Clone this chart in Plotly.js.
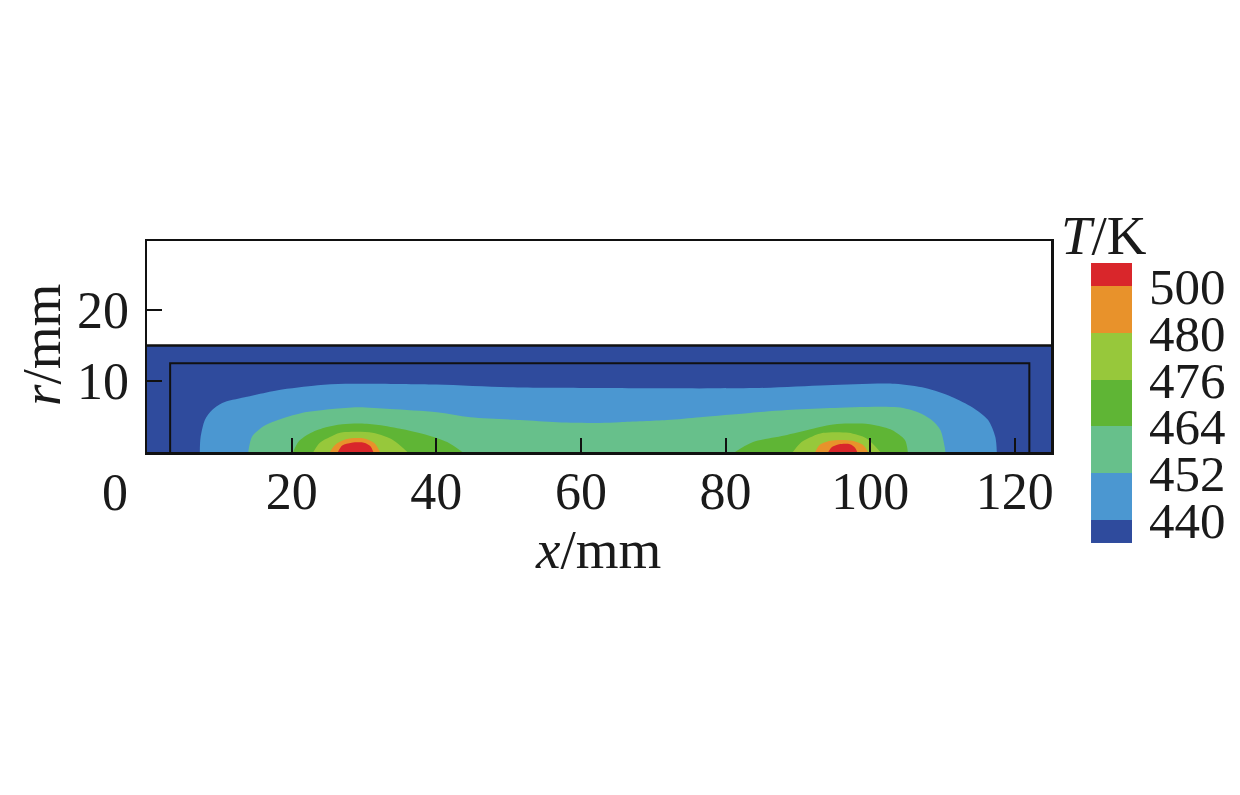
<!DOCTYPE html>
<html>
<head>
<meta charset="utf-8">
<script src="https://cdn.plot.ly/plotly-3.0.1.min.js"></script>
<style>html,body{margin:0;padding:0;background:#fff;}#chart{width:1240px;height:795px;}</style>
</head>
<body>
<div id="chart"></div>
<script>
// ---- data ----
const bandColors = ['#2f4b9d', '#4b97d1', '#67c08b', '#5fb535', '#97c83b', '#e8922b', '#d9262b'];
const levelLabels = ['440', '452', '464', '476', '480', '500'];

// solid domain (T <= 440 K everywhere outside the isotherms)
const domainX = [0, 125];
const domainR = [15, 15];
// inner boundary outline
const innerX = [3.2, 3.2, 122, 122];
const innerR = [0, 12.5, 12.5, 0];

// isotherm profiles r(x) in mm
const iso440X = [7.3, 7.4, 8.0, 9.0, 10.4, 13.5, 18.1, 23.6, 27.4, 40.0, 50.0, 62.0, 84.0, 94.0, 103.4, 107.6, 111.3, 114.1, 116.3, 117.3, 117.5];
const iso440R = [0, 2.0, 4.5, 5.9, 6.9, 7.7, 8.7, 9.4, 9.6, 9.5, 9.1, 9.0, 9.0, 9.4, 9.6, 9.0, 7.75, 6.3, 4.5, 2.1, 0];

const iso452X = [14.0, 14.5, 15.9, 18.1, 21.4, 25.6, 29.2, 33.6, 40.1, 44.7, 51.6, 56.7, 62.6, 65.4, 71.9, 76.5, 83.4, 88.5, 94.4, 103.8, 106.6, 108.5, 109.7, 110.3, 110.4];
const iso452R = [0, 2.1, 3.5, 4.5, 5.5, 6.05, 6.3, 6.05, 5.6, 4.9, 4.5, 4.2, 4.1, 4.2, 4.5, 4.9, 5.5, 5.9, 6.2, 6.3, 5.6, 4.5, 3.1, 0.7, 0];

const iso464aX = [20.2, 21.0, 22.5, 24.5, 27.0, 29.5, 32.0, 35.4, 38.7, 41.5, 43.6];
const iso464aR = [0, 1.5, 2.6, 3.4, 3.9, 4.0, 3.8, 3.2, 2.4, 1.4, 0];
const iso464bX = [81.3, 83.8, 88.5, 92.6, 94.4, 96.5, 98.9, 101.0, 103.0, 104.8, 105.2];
const iso464bR = [0, 1.4, 2.4, 3.4, 3.8, 4.0, 4.0, 3.7, 3.1, 1.7, 0];

const iso476aX = [23.0, 23.9, 25.3, 26.7, 31.2, 34.0, 36.0];
const iso476aR = [0, 1.3, 2.1, 2.7, 2.7, 1.7, 0];
const iso476bX = [89.3, 90.5, 92.0, 93.5, 97.0, 99.5, 101.4];
const iso476bR = [0, 1.4, 2.2, 2.7, 2.7, 1.9, 0];

const iso480aX = [25.3, 26.0, 27.5, 30.0, 31.5, 32.2];
const iso480aR = [0, 1.0, 1.8, 1.9, 1.2, 0];
const iso480bX = [92.4, 93.0, 94.5, 97.5, 99.0, 99.7];
const iso480bR = [0, 1.0, 1.6, 1.6, 1.0, 0];

const iso500aX = [26.4, 27.0, 28.3, 30.0, 30.9, 31.3];
const iso500aR = [0, 0.9, 1.3, 1.3, 0.8, 0];
const iso500bX = [94.2, 94.7, 95.7, 97.2, 97.9, 98.2];
const iso500bR = [0, 0.7, 1.1, 1.1, 0.6, 0];

const xTicks = [20, 40, 60, 80, 100, 120];
const yTicks = [10, 20];

// ---- traces ----
const FONT = 'Liberation Serif, Times New Roman, serif';
function band(x, r, color, line) {
  return {
    type: 'scatter', mode: 'lines', x: x, y: r, fill: 'tozeroy', fillcolor: color,
    line: line || {width: 0, color: color, shape: 'spline', smoothing: 0.8},
    hoverinfo: 'skip', showlegend: false, xaxis: 'x', yaxis: 'y'
  };
}
const traces = [
  band(domainX, domainR, bandColors[0], {width: 2.5, color: '#111'}),
  band(iso440X, iso440R, bandColors[1]),
  band(iso452X, iso452R, bandColors[2]),
  band(iso464aX, iso464aR, bandColors[3]),
  band(iso464bX, iso464bR, bandColors[3]),
  band(iso476aX, iso476aR, bandColors[4]),
  band(iso476bX, iso476bR, bandColors[4]),
  band(iso480aX, iso480aR, bandColors[5]),
  band(iso480bX, iso480bR, bandColors[5]),
  band(iso500aX, iso500aR, bandColors[6]),
  band(iso500bX, iso500bR, bandColors[6]),
  {type: 'scatter', mode: 'lines', x: innerX, y: innerR, line: {color: '#111', width: 2},
   hoverinfo: 'skip', showlegend: false, xaxis: 'x', yaxis: 'y'}
];

// colour bar drawn as a one-column heatmap
const nb = bandColors.length;
const cbEdges = [0];
for (let i = 0; i < nb - 1; i++) cbEdges.push(i + 0.5);
cbEdges.push(nb - 1);
const cbZ = bandColors.map((c, i) => [i]);
const cbScale = bandColors.map((c, i) => [i / (nb - 1), c]);
traces.push({
  type: 'heatmap', x: [0, 1], y: cbEdges, z: cbZ, colorscale: cbScale,
  zmin: 0, zmax: nb - 1, showscale: false, hoverinfo: 'skip', xaxis: 'x2', yaxis: 'y2'
});
const cbTickVals = levelLabels.map((t, i) => i + 0.5);

const layout = {
  width: 1240, height: 795,
  margin: {l: 147, r: 108, t: 241, b: 252},
  paper_bgcolor: '#fff', plot_bgcolor: '#fff',
  font: {family: FONT, size: 52, color: '#1a1a1a'},
  showlegend: false,
  xaxis: {
    domain: [0, 0.9178], range: [0, 125], anchor: 'y',
    tickvals: xTicks, ticks: 'inside', ticklen: 14, tickwidth: 2, tickcolor: '#111',
    showline: true, mirror: true, linecolor: '#111', linewidth: 2.5,
    showgrid: false, zeroline: false, ticklabelstandoff: -8,
    tickfont: {family: FONT, size: 52, color: '#1a1a1a'}
  },
  yaxis: {
    domain: [0.3013, 1], range: [0, 29.7], anchor: 'x',
    tickvals: yTicks, ticks: 'inside', ticklen: 15, tickwidth: 2, tickcolor: '#111',
    showline: true, mirror: true, linecolor: '#111', linewidth: 2.5,
    showgrid: false, zeroline: false, ticklabelstandoff: 5,
    tickfont: {family: FONT, size: 52, color: '#1a1a1a'}
  },
  xaxis2: {
    domain: [0.9584, 1], range: [0, 1], anchor: 'y2',
    showticklabels: false, ticks: '', showline: false, showgrid: false, zeroline: false
  },
  yaxis2: {
    domain: [0, 0.9272], range: [0, nb - 1], anchor: 'x2', side: 'right',
    tickvals: cbTickVals, ticktext: levelLabels, ticks: '', ticklabelstandoff: 16,
    showline: false, showgrid: false, zeroline: false,
    tickfont: {family: FONT, size: 51, color: '#1a1a1a'}
  },
  annotations: [
    {text: '<i>x</i>/mm', xref: 'paper', yref: 'paper', x: 0.458, y: -0.023,
     xanchor: 'center', yanchor: 'middle', showarrow: false, font: {family: FONT, size: 55, color: '#1a1a1a'}},
    {text: '<i>r</i>/mm', xref: 'paper', yref: 'paper', x: -0.1066, y: 0.656, textangle: -90,
     xanchor: 'center', yanchor: 'middle', showarrow: false, font: {family: FONT, size: 55, color: '#1a1a1a'}},
    {text: '<i>T</i>/K', xref: 'paper', yref: 'paper', x: 0.972, y: 1.0166,
     xanchor: 'center', yanchor: 'middle', showarrow: false, font: {family: FONT, size: 55, color: '#1a1a1a'}},
    {text: '0', xref: 'paper', yref: 'paper', x: -0.0325, y: 0.1656,
     xanchor: 'center', yanchor: 'middle', showarrow: false, font: {family: FONT, size: 52, color: '#1a1a1a'}}
  ]
};

Plotly.newPlot('chart', traces, layout, {staticPlot: true, displayModeBar: false});
</script>
</body>
</html>
